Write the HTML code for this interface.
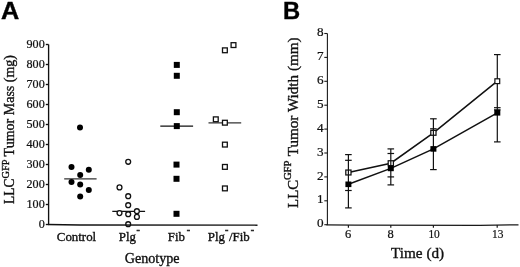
<!DOCTYPE html>
<html><head><meta charset="utf-8"><title>Figure</title>
<style>
html,body{margin:0;padding:0;background:#fff;}
body{width:520px;height:267px;overflow:hidden;}
svg{display:block;}
text{font-family:"Liberation Serif","Times New Roman",serif;fill:#111;stroke:#111;stroke-width:0.35px;}
.lab{font-family:"Liberation Sans",Arial,sans-serif;font-weight:bold;fill:#000;stroke:#000;stroke-width:0.4px;}
.sup{stroke-width:0.5px;}
.tk{stroke-width:0.22px;}
</style></head><body>
<svg width="520" height="267" viewBox="0 0 520 267">
<rect width="520" height="267" fill="#fff"/>

<text class="lab" transform="translate(0.9 19) scale(1.03 1)" font-size="24.5">A</text>
<text class="lab" transform="translate(283 18.8) scale(0.97 1)" font-size="24.5">B</text>
<g stroke="#111" stroke-width="1.35" fill="none">
<path d="M48.6 44.5V224.5"/>
<path d="M47.9 224.5L80 225.05L257.5 225.15" stroke-width="1.45"/>
<path d="M45.8 44.5H48.6"/>
<path d="M45.8 64.5H48.6"/>
<path d="M45.8 84.5H48.6"/>
<path d="M45.8 104.5H48.6"/>
<path d="M45.8 124.5H48.6"/>
<path d="M45.8 144.5H48.6"/>
<path d="M45.8 164.5H48.6"/>
<path d="M45.8 184.5H48.6"/>
<path d="M45.8 204.5H48.6"/>
<path d="M45.8 224.5H48.6"/>
</g>
<text class="tk" x="44.7" y="48.2" font-size="12.1" text-anchor="end">900</text>
<text class="tk" x="44.7" y="68.2" font-size="12.1" text-anchor="end">800</text>
<text class="tk" x="44.7" y="88.2" font-size="12.1" text-anchor="end">700</text>
<text class="tk" x="44.7" y="108.2" font-size="12.1" text-anchor="end">600</text>
<text class="tk" x="44.7" y="128.2" font-size="12.1" text-anchor="end">500</text>
<text class="tk" x="44.7" y="148.2" font-size="12.1" text-anchor="end">400</text>
<text class="tk" x="44.7" y="168.2" font-size="12.1" text-anchor="end">300</text>
<text class="tk" x="44.7" y="188.2" font-size="12.1" text-anchor="end">200</text>
<text class="tk" x="44.7" y="208.2" font-size="12.1" text-anchor="end">100</text>
<text class="tk" x="44.7" y="228.2" font-size="12.1" text-anchor="end">0</text>
<g stroke="#333" stroke-width="1.3">
<path d="M64.2 178.9H96.6"/>
<path d="M112.3 211.4H145.1" stroke="#111"/>
<path d="M160.3 126.1H193.1" stroke="#111"/>
<path d="M208.5 122.8H241.2"/>
</g>
<circle cx="80" cy="127.4" r="3" fill="#000"/>
<circle cx="71.5" cy="166.9" r="3" fill="#000"/>
<circle cx="88.8" cy="169.7" r="3" fill="#000"/>
<circle cx="80.2" cy="175.1" r="3" fill="#000"/>
<circle cx="71.5" cy="182" r="3" fill="#000"/>
<circle cx="80.2" cy="184.6" r="3" fill="#000"/>
<circle cx="88.8" cy="190" r="3" fill="#000"/>
<circle cx="80.2" cy="196.6" r="3" fill="#000"/>
<circle cx="128.2" cy="161.8" r="2.45" fill="#fff" stroke="#111" stroke-width="1.3"/>
<circle cx="119.5" cy="187.4" r="2.45" fill="#fff" stroke="#111" stroke-width="1.3"/>
<circle cx="128.2" cy="196.2" r="2.45" fill="#fff" stroke="#111" stroke-width="1.3"/>
<circle cx="128.2" cy="205.2" r="2.45" fill="#fff" stroke="#111" stroke-width="1.3"/>
<circle cx="119.5" cy="213.1" r="2.45" fill="#fff" stroke="#111" stroke-width="1.3"/>
<circle cx="128.2" cy="214.2" r="2.45" fill="#fff" stroke="#111" stroke-width="1.3"/>
<circle cx="136.9" cy="211.2" r="2.45" fill="#fff" stroke="#111" stroke-width="1.3"/>
<circle cx="136.9" cy="216.9" r="2.45" fill="#fff" stroke="#111" stroke-width="1.3"/>
<circle cx="128.2" cy="224.2" r="2.45" fill="none" stroke="#111" stroke-width="1.3"/>
<rect x="173.8" y="61.900000000000006" width="6" height="6" fill="#000"/>
<rect x="173.8" y="72.8" width="6" height="6" fill="#000"/>
<rect x="173.8" y="109.2" width="6" height="6" fill="#000"/>
<rect x="173.8" y="123.1" width="6" height="6" fill="#000"/>
<rect x="173.5" y="161.6" width="6" height="6" fill="#000"/>
<rect x="173.5" y="175.8" width="6" height="6" fill="#000"/>
<rect x="173.5" y="210.8" width="6" height="6" fill="#000"/>
<rect x="231.1" y="42.7" width="4.8" height="4.8" fill="#fff" stroke="#111" stroke-width="1.3"/>
<rect x="222.5" y="47.9" width="4.8" height="4.8" fill="#fff" stroke="#111" stroke-width="1.3"/>
<rect x="213.4" y="116.89999999999999" width="4.8" height="4.8" fill="#fff" stroke="#111" stroke-width="1.3"/>
<rect x="222.5" y="120.3" width="4.8" height="4.8" fill="#fff" stroke="#111" stroke-width="1.3"/>
<rect x="222.5" y="142.2" width="4.8" height="4.8" fill="#fff" stroke="#111" stroke-width="1.3"/>
<rect x="222.5" y="164.5" width="4.8" height="4.8" fill="#fff" stroke="#111" stroke-width="1.3"/>
<rect x="222.5" y="186.0" width="4.8" height="4.8" fill="#fff" stroke="#111" stroke-width="1.3"/>
<text x="56.8" y="241.4" font-size="12.9">Control</text>
<text x="118.8" y="241.4" font-size="12.9">Plg</text><text class="sup" x="136.5" y="233.4" font-size="10">-</text>
<text x="167.8" y="241.4" font-size="12.9">Fib</text><text class="sup" x="186.8" y="233.4" font-size="10">-</text>
<text x="207.8" y="241.4" font-size="12.9">Plg</text><text class="sup" x="225.1" y="233.4" font-size="10">-</text><text x="229" y="241.4" font-size="12.9">/Fib</text><text class="sup" x="250.8" y="233.4" font-size="10">-</text>
<text x="124.8" y="262.8" font-size="14.1">Genotype</text>
<g transform="translate(14 0) rotate(-90)">
<text x="-203.9" y="0" font-size="14.2" textLength="25.2" lengthAdjust="spacingAndGlyphs">LLC</text>
<text x="-178.5" y="-4.7" font-size="10.4">GFP</text>
<text x="-156.4" y="0" font-size="14">Tumor Mass (mg)</text>
</g>
<g stroke="#1a1a1a" stroke-width="1.1" fill="none">
<path d="M327.4 33.5V225"/>
<path d="M326.4 224.8L355 225.2L480 225.3L518.5 224.8" stroke-width="1.35"/>
<path d="M324.3 33.5H327.4"/>
<path d="M324.3 57.4H327.4"/>
<path d="M324.3 81.3H327.4"/>
<path d="M324.3 105.2H327.4"/>
<path d="M324.3 129.1H327.4"/>
<path d="M324.3 153.0H327.4"/>
<path d="M324.3 176.9H327.4"/>
<path d="M324.3 200.8H327.4"/>
<path d="M324.3 224.7H327.4"/>
<path d="M348.4 225V227.8" stroke-width="1.2"/>
<path d="M390.8 225V227.8" stroke-width="1.2"/>
<path d="M433.4 225V227.8" stroke-width="1.2"/>
<path d="M497.2 225V227.8" stroke-width="1.2"/>
</g>
<text x="323.6" y="36.1" font-size="13.2" class="tk" text-anchor="end">8</text>
<text x="323.6" y="60.0" font-size="13.2" class="tk" text-anchor="end">7</text>
<text x="323.6" y="83.9" font-size="13.2" class="tk" text-anchor="end">6</text>
<text x="323.6" y="107.8" font-size="13.2" class="tk" text-anchor="end">5</text>
<text x="323.6" y="131.7" font-size="13.2" class="tk" text-anchor="end">4</text>
<text x="323.6" y="155.6" font-size="13.2" class="tk" text-anchor="end">3</text>
<text x="323.6" y="179.5" font-size="13.2" class="tk" text-anchor="end">2</text>
<text x="323.6" y="203.4" font-size="13.2" class="tk" text-anchor="end">1</text>
<text x="323.6" y="227.3" font-size="13.2" class="tk" text-anchor="end">0</text>
<text x="348" y="238" font-size="12.5" class="tk" text-anchor="middle">6</text>
<text x="390.6" y="238" font-size="12.5" class="tk" text-anchor="middle">8</text>
<text x="428.4" y="238" font-size="12.5" class="tk" textLength="11.4" lengthAdjust="spacingAndGlyphs">10</text>
<text x="492" y="238" font-size="12.5" class="tk" textLength="11.4" lengthAdjust="spacingAndGlyphs">13</text>
<text x="391" y="257.5" font-size="14.7" textLength="53.2" lengthAdjust="spacingAndGlyphs">Time (d)</text>
<g transform="translate(298.1 0) rotate(-90)">
<text x="-207.9" y="0" font-size="15.2" textLength="27.9" lengthAdjust="spacingAndGlyphs">LLC</text>
<text x="-180.1" y="-6.9" font-size="10.7">GFP</text>
<text x="-156.3" y="0" font-size="15.15">Tumor Width (mm)</text>
</g>
<g stroke="#111" stroke-width="1.55" fill="none">
<polyline points="348.4,172.5 390.8,163.2 433.4,132.8 497.3,81.2"/>
<polyline points="348.4,184.3 390.8,168.4 433.4,148.9 497.3,112.8"/>
</g>
<rect x="345.79999999999995" y="170.05" width="5.2" height="4.9" fill="#fff" stroke="#111" stroke-width="1.25"/>
<rect x="388.2" y="160.75" width="5.2" height="4.9" fill="#fff" stroke="#111" stroke-width="1.25"/>
<rect x="430.79999999999995" y="130.35000000000002" width="5.2" height="4.9" fill="#fff" stroke="#111" stroke-width="1.25"/>
<g stroke="#111" stroke-width="1.2" fill="none">
<path d="M348.4 154.6V207.9"/>
<path d="M345.1 154.6H351.7"/>
<path d="M345.1 160.3H351.7"/>
<path d="M345.1 190.5H351.7"/>
<path d="M345.1 207.9H351.7"/>
<path d="M390.8 148.9V184.9"/>
<path d="M387.5 148.9H394.1"/>
<path d="M387.5 153.5H394.1"/>
<path d="M387.5 176.9H394.1"/>
<path d="M387.5 184.9H394.1"/>
<path d="M433.4 118.8V169.6"/>
<path d="M430.1 118.8H436.7"/>
<path d="M430.1 128.8H436.7"/>
<path d="M430.1 169.6H436.7"/>
<path d="M497.3 54.6V141.9"/>
<path d="M494.0 54.6H500.6"/>
<path d="M494.0 107.7H500.6"/>
<path d="M494.0 109.8H500.6"/>
<path d="M494.0 141.9H500.6"/>
</g>
<rect x="345.4" y="181.5" width="6" height="5.6" fill="#000"/>
<rect x="387.8" y="165.6" width="6" height="5.6" fill="#000"/>
<rect x="430.4" y="146.1" width="6" height="5.6" fill="#000"/>
<rect x="494.3" y="110.0" width="6" height="5.6" fill="#000"/>
<rect x="494.90000000000003" y="78.8" width="4.8" height="4.8" fill="#fff" stroke="#111" stroke-width="1.2"/>
</svg></body></html>
